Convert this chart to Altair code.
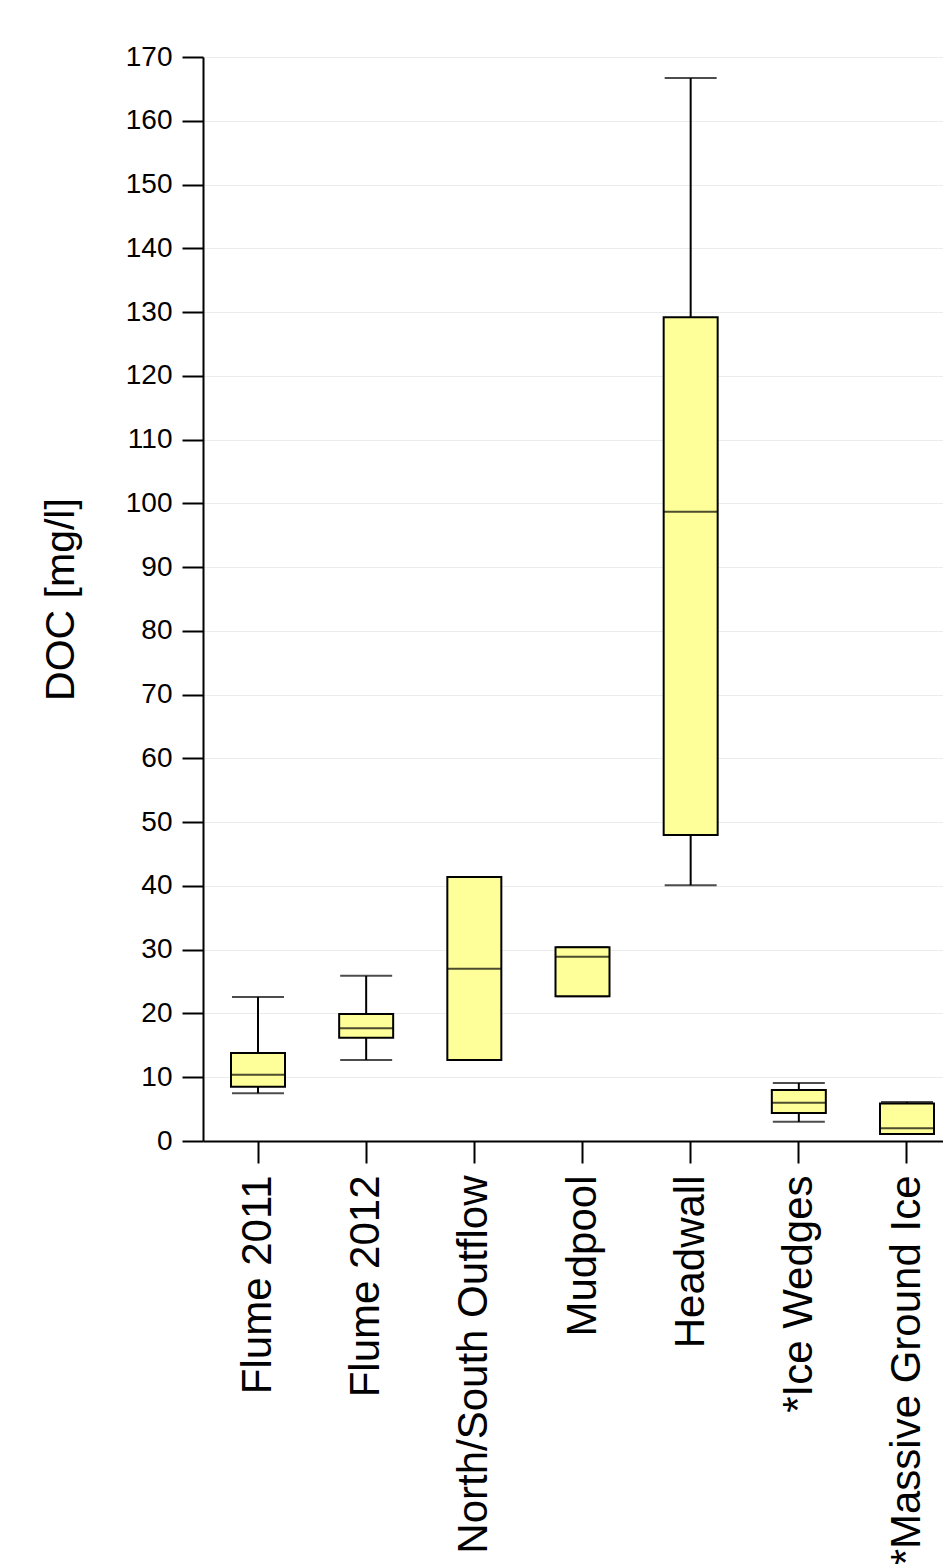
import altair as alt
import pandas as pd

categories = ["Flume 2011", "Flume 2012", "North/South Outflow", "Mudpool",
              "Headwall", "*Ice Wedges", "*Massive Ground Ice"]
whisker_low = [7.5, 12.7, 12.7, 22.7, 40.1, 3.0, 1.1]
q1 = [8.5, 16.2, 12.7, 22.7, 48.0, 4.4, 1.1]
median = [10.4, 17.7, 27.0, 28.9, 98.7, 6.0, 2.0]
q3 = [13.8, 19.9, 41.4, 30.4, 129.2, 8.0, 5.9]
whisker_high = [22.6, 25.9, 41.4, 30.4, 166.7, 9.1, 6.1]

df = pd.DataFrame({
    "cat": categories, "lo": whisker_low, "q1": q1, "med": median,
    "q3": q3, "hi": whisker_high,
})

xscale = alt.Scale(paddingInner=0, paddingOuter=0.0085, range=[0, 759])
xenc = alt.X("cat:N", sort=categories, title=None, scale=xscale,
             axis=alt.Axis(labelAngle=-90, labelFontSize=42, labelFont="Liberation Sans",
                           labelColor="black", labelPadding=12, tickSize=22,
                           tickWidth=2, tickColor="black", domainColor="black",
                           domainWidth=2, grid=False, labelLimit=1000))
yscale = alt.Scale(domain=[0, 170], nice=False, zero=True)
yaxis = alt.Axis(values=list(range(0, 171, 10)), labelFontSize=28,
                 labelFont="Liberation Sans", labelColor="black", labelPadding=10,
                 tickSize=21, tickWidth=2, tickColor="black", domainColor="black",
                 domainWidth=2, grid=True, gridColor="#ececec", gridWidth=1,
                 title="DOC [mg/l]", titleFontSize=41, titleFont="Liberation Sans",
                 titleFontWeight="normal", titleColor="black", titlePadding=43)

base = alt.Chart(df)

whisker = base.mark_rule(color="black", strokeWidth=2).encode(
    x=xenc,
    y=alt.Y("lo:Q", scale=yscale, axis=yaxis),
    y2="hi:Q",
)
cap_lo = base.mark_tick(color="black", thickness=2, size=52, orient="horizontal").encode(
    x=alt.X("cat:N", sort=categories), y=alt.Y("lo:Q", scale=yscale))
cap_hi = base.mark_tick(color="black", thickness=2, size=52, orient="horizontal").encode(
    x=alt.X("cat:N", sort=categories), y=alt.Y("hi:Q", scale=yscale))
box = base.mark_bar(size=54, fill="#FFFF99", stroke="black", strokeWidth=2).encode(
    x=alt.X("cat:N", sort=categories), y=alt.Y("q1:Q", scale=yscale), y2="q3:Q")
med = base.mark_tick(color="black", thickness=2, size=54, orient="horizontal").encode(
    x=alt.X("cat:N", sort=categories), y=alt.Y("med:Q", scale=yscale))

chart = alt.layer(whisker, cap_lo, cap_hi, box, med).properties(
    width=740, height=1084,
    autosize=alt.AutoSizeParams(type="none"),
    padding={"left": 203, "top": 57, "right": 0, "bottom": 423},
).configure_view(stroke=None).configure(background="white")

chart.save("out.html", embed_options={"renderer": "svg", "actions": False})
